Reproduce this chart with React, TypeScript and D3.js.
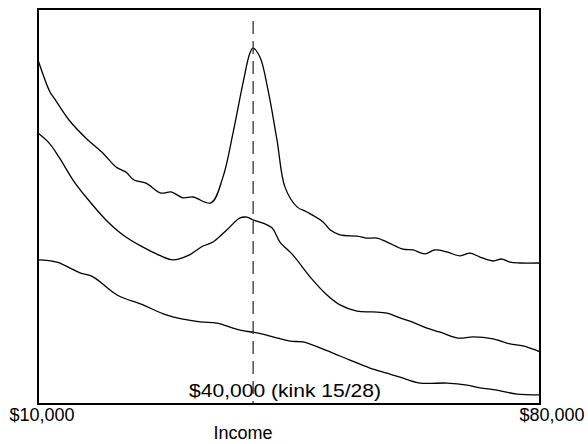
import React from "react";
import * as d3 from "d3";

// Income in thousands of dollars, density in arbitrary units
const topX = [10, 11.67, 12.23, 14.32, 16.69, 19.06, 20.88, 22.27, 23.39, 25.06, 27.15, 28.55, 30.22, 31.61, 34.12, 35.8, 37.19, 38.59, 39.56, 39.98, 40.96, 42.07, 43.33, 44.44, 46.12, 47.51, 49.74, 50.72, 52.11, 54.48, 55.88, 57.27, 58.67, 60.9, 62.29, 63.96, 65.36, 67.03, 68.84, 70.24, 71.63, 73.45, 74.7, 75.82, 77.21, 80];
const topY = [87.1, 79.0, 77.5, 71.9, 67.3, 63.5, 60.0, 58.7, 56.7, 55.9, 53.4, 53.7, 52.2, 52.4, 50.9, 57.5, 68.6, 81.3, 88.9, 90.1, 87.8, 79.5, 66.8, 54.9, 49.9, 48.6, 46.1, 44.1, 42.8, 42.5, 42.0, 42.0, 41.0, 39.2, 39.0, 38.0, 39.0, 38.5, 37.5, 38.2, 37.2, 36.2, 36.7, 35.9, 35.7, 35.7];

const midX = [10, 11.53, 12.93, 14.88, 16.69, 19.48, 21.85, 24.64, 26.87, 28.82, 31.06, 33.01, 34.4, 36.35, 38.17, 39.14, 39.98, 41.37, 42.63, 43.74, 45.56, 47.93, 50.3, 52.11, 54.48, 56.71, 58.67, 60.48, 62.15, 64.24, 66.06, 68.57, 70.66, 73.45, 75.82, 77.63, 80];
const midY = [68.6, 66.1, 62.5, 56.7, 52.4, 46.6, 42.8, 39.7, 37.7, 36.5, 37.7, 40.0, 41.0, 44.1, 47.1, 47.3, 46.6, 45.8, 44.6, 41.0, 37.7, 32.2, 27.6, 25.1, 23.5, 23.3, 23.0, 21.8, 20.8, 19.2, 18.2, 16.7, 17.0, 16.5, 15.2, 14.7, 13.2];

const lowX = [10, 12.65, 15.86, 17.67, 21.02, 24.64, 27.99, 32.59, 34.96, 38.17, 40.54, 42.77, 45.14, 46.95, 49.32, 51.14, 53.51, 56.29, 58.67, 60.48, 63.27, 67.03, 69.82, 71.63, 74.0, 76.79, 80];
const lowY = [36.5, 35.9, 33.2, 32.2, 27.6, 25.1, 22.5, 20.8, 20.5, 18.7, 18.0, 17.0, 15.9, 15.7, 14.2, 12.9, 11.1, 9.1, 7.8, 6.8, 5.3, 5.3, 4.8, 4.1, 3.5, 2.5, 2.3];

const xDomain = [10, 80];
const yDomain = [0, 100];
const kinkValue = 40;
const kinkLabel = "$40,000 (kink 15/28)";
const tickLabels = ["$10,000", "$80,000"];
const xTitle = "Income";

export default function App() {
  const left = 38, right = 540, top = 9, bottom = 404;
  const x = d3.scaleLinear().domain(xDomain).range([left, right]);
  const y = d3.scaleLinear().domain(yDomain).range([bottom, top]);
  const line = d3
    .line<[number, number]>()
    .x((d) => x(d[0]))
    .y((d) => y(d[1]))
    .curve(d3.curveCatmullRom.alpha(0.5));
  const series = [
    topX.map((v, i) => [v, topY[i]] as [number, number]),
    midX.map((v, i) => [v, midY[i]] as [number, number]),
    lowX.map((v, i) => [v, lowY[i]] as [number, number]),
  ];
  const font = "'Liberation Sans', Arial, Helvetica, sans-serif";
  return (
    <svg
      width={588}
      height={444}
      style={{ position: "absolute", left: 0, top: 0, background: "#fff" }}
      fontFamily={font}
    >
      <rect x={0} y={0} width={588} height={444} fill="#fff" />
      {series.map((s, i) => (
        <path key={i} d={line(s) || ""} fill="none" stroke="#000" strokeWidth={1.3} />
      ))}
      <line
        x1={x(kinkValue)}
        x2={x(kinkValue)}
        y1={21}
        y2={bottom}
        stroke="#333"
        strokeWidth={1.3}
        strokeDasharray="13,7"
      />
      <text x={189} y={397} fontSize={18.5} textLength={192} lengthAdjust="spacingAndGlyphs" fill="#000">
        {kinkLabel}
      </text>
      <rect
        x={left}
        y={top}
        width={right - left}
        height={bottom - top}
        fill="none"
        stroke="#000"
        strokeWidth={2}
      />
      <text x={x(xDomain[0]) + 4} y={421} fontSize={18} textAnchor="middle" fill="#000">
        {tickLabels[0]}
      </text>
      <text x={x(xDomain[1]) + 12} y={421} fontSize={18} textAnchor="middle" fill="#000">
        {tickLabels[1]}
      </text>
      <text x={243} y={439} fontSize={18} textAnchor="middle" fill="#000">
        {xTitle}
      </text>
    </svg>
  );
}
